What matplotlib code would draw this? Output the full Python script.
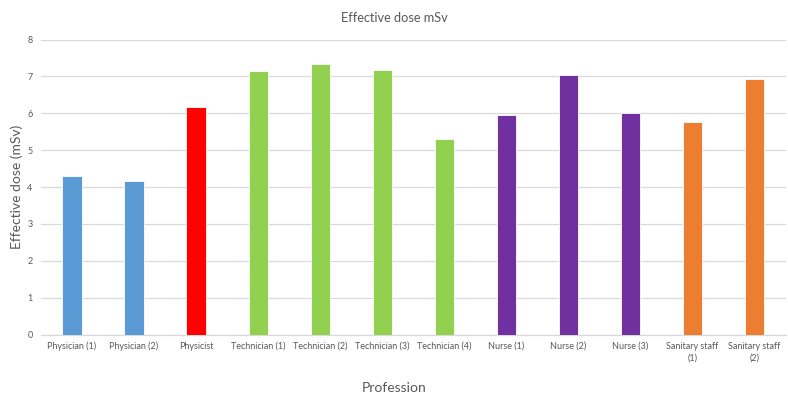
import matplotlib
matplotlib.use("Agg")
import matplotlib.pyplot as plt

professions = ["Physician (1)", "Physician (2)", "Physicist", "Technician (1)",
               "Technician (2)", "Technician (3)", "Technician (4)", "Nurse (1)",
               "Nurse (2)", "Nurse (3)", "Sanitary staff\n(1)", "Sanitary staff\n(2)"]
doses = [4.29, 4.17, 6.18, 7.15, 7.33, 7.17, 5.31, 5.95, 7.05, 6.01, 5.76, 6.93]
groups = ["Physician", "Physician", "Physicist", "Technician", "Technician",
          "Technician", "Technician", "Nurse", "Nurse", "Nurse", "Sanitary", "Sanitary"]
group_colors = {"Physician": "#5B9BD5", "Physicist": "#FF0000", "Technician": "#92D050",
                "Nurse": "#7030A0", "Sanitary": "#ED7D31"}

plt.rcParams["font.family"] = ["Lato", "DejaVu Sans"]
text_color = "#595959"

fig = plt.figure(figsize=(7.88, 3.95), dpi=100)
ax = fig.add_axes([0.052, 0.153, 0.945, 0.747])

x = range(len(professions))
ax.bar(x, doses, width=0.31, color=[group_colors[g] for g in groups],
       edgecolor="white", linewidth=0.6, zorder=3)

ax.set_xlim(-0.5, len(professions) - 0.5)
ax.set_ylim(0, 8)
ax.set_yticks(range(0, 9))
ax.set_xticks(list(x))
ax.set_xticklabels(professions, fontsize=6.5, color=text_color, linespacing=1.4)
ax.tick_params(axis="y", labelsize=6.5, labelcolor=text_color, length=0, pad=6)
ax.tick_params(axis="x", length=0, pad=5)

ax.grid(axis="y", color="#D9D9D9", linewidth=0.9, zorder=0)
for side in ["top", "right", "left"]:
    ax.spines[side].set_visible(False)
ax.spines["bottom"].set_color("#D9D9D9")
ax.spines["bottom"].set_linewidth(0.9)

ax.set_ylabel("Effective dose (mSv)", fontsize=10, color=text_color, labelpad=3)
fig.text(0.5, 0.018, "Profession", ha="center", va="center",
         fontsize=10, color=text_color)
fig.text(0.5, 0.955, "Effective dose mSv", ha="center", va="center",
         fontsize=9.2, color=text_color)

fig.savefig("out.png", dpi=100)
